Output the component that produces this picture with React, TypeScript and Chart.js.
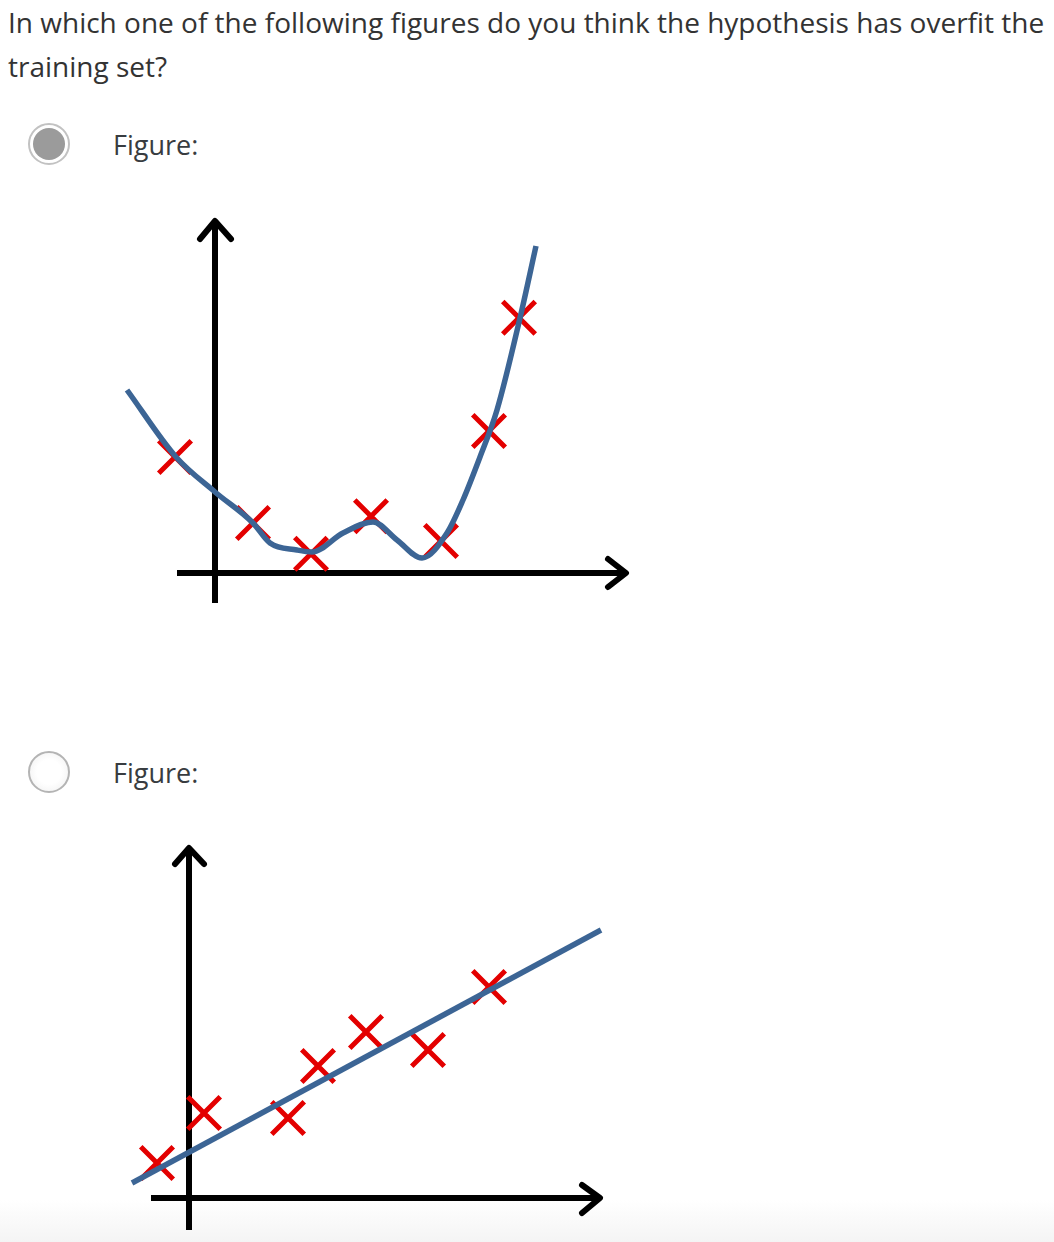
import React, { useEffect, useRef } from "react";
import { Chart, registerables } from "chart.js";

Chart.register(...registerables);

// ---------- Text ----------
const questionText =
  "In which one of the following figures do you think the hypothesis has overfit the training set?";
const optionLabels = ["Figure:", "Figure:"];

// ---------- Figure 1 (overfit hypothesis) ----------
const fig1CrossX = [-1, 0.95, 2.4, 3.9, 5.65, 6.85, 7.6];
const fig1CrossY = [2.9, 1.25, 0.48, 1.42, 0.8, 3.55, 6.38];
const fig1CurveX = [-2.2, -0.975, 0, 0.95, 1.375, 2.05, 2.425, 3.2, 3.95, 4.55, 5.175, 5.8, 6.2, 6.625, 7.05, 7.625, 8.025];
const fig1CurveY = [4.575, 2.9, 2.025, 1.25, 0.75, 0.575, 0.525, 1.0, 1.275, 0.825, 0.375, 1.0, 1.825, 2.9, 4.075, 6.375, 8.175];
const fig1YAxisX = [0, 0];
const fig1YAxisY = [-0.75, 8.8];
const fig1YArrowX = [-0.375, 0, 0.4];
const fig1YArrowY = [8.35, 8.8, 8.35];
const fig1XAxisX = [-0.95, 10.275];
const fig1XAxisY = [0, 0];
const fig1XArrowX = [9.825, 10.275, 9.825];
const fig1XArrowY = [0.35, 0, -0.35];

// ---------- Figure 2 (good linear fit) ----------
const fig2CrossX = [-0.8, 0.375, 2.475, 3.225, 4.425, 5.975, 7.5];
const fig2CrossY = [0.875, 2.125, 2.0, 3.3, 4.15, 3.7, 5.275];
const fig2LineX = [-1.425, 10.3];
const fig2LineY = [0.375, 6.7];
const fig2YAxisX = [0, 0];
const fig2YAxisY = [-0.8, 8.75];
const fig2YArrowX = [-0.35, 0, 0.375];
const fig2YArrowY = [8.35, 8.75, 8.35];
const fig2XAxisX = [-0.95, 10.275];
const fig2XAxisY = [0, 0];
const fig2XArrowX = [9.825, 10.275, 9.825];
const fig2XArrowY = [0.325, 0, -0.375];

const BLUE = "#3c6595";
const RED = "#e30000";
const BLACK = "#000000";

function pts(xs: number[], ys: number[]) {
  return xs.map((x, i) => ({ x, y: ys[i] }));
}

function axisSet(xs: number[], ys: number[], round: boolean) {
  return {
    type: "line" as const,
    data: pts(xs, ys),
    showLine: true,
    borderColor: BLACK,
    borderWidth: 6,
    pointRadius: 0,
    tension: 0,
    borderCapStyle: round ? "round" : "butt",
    borderJoinStyle: round ? "round" : "miter",
    clip: false,
    order: 3,
  };
}

type FigProps = {
  left: number;
  top: number;
  width: number;
  height: number;
  xMin: number;
  xMax: number;
  yMin: number;
  yMax: number;
  datasets: any[];
};

function FigureChart(props: FigProps) {
  const ref = useRef<HTMLCanvasElement | null>(null);
  useEffect(() => {
    if (!ref.current) return;
    const chart = new Chart(ref.current, {
      type: "scatter",
      data: { datasets: props.datasets },
      options: {
        animation: false,
        responsive: false,
        maintainAspectRatio: false,
        devicePixelRatio: 1,
        layout: { padding: 0, autoPadding: false },
        events: [],
        plugins: { legend: { display: false }, tooltip: { enabled: false } },
        scales: {
          x: { type: "linear", min: props.xMin, max: props.xMax, display: false },
          y: { type: "linear", min: props.yMin, max: props.yMax, display: false },
        },
      } as any,
    });
    return () => chart.destroy();
  }, []);
  return (
    <canvas
      ref={ref}
      width={props.width}
      height={props.height}
      style={{
        position: "absolute",
        left: props.left,
        top: props.top,
        width: props.width,
        height: props.height,
      }}
    />
  );
}

function crossSet(xs: number[], ys: number[]) {
  return {
    type: "scatter" as const,
    data: pts(xs, ys),
    showLine: false,
    pointStyle: "crossRot",
    pointRadius: 23,
    pointBorderWidth: 5,
    pointBorderColor: RED,
    pointBackgroundColor: RED,
    borderColor: RED,
    clip: false,
    order: 2,
  };
}

const fig1Datasets = [
  {
    type: "line" as const,
    data: pts(fig1CurveX, fig1CurveY),
    showLine: true,
    borderColor: BLUE,
    borderWidth: 5.5,
    pointRadius: 0,
    cubicInterpolationMode: "monotone",
    borderCapStyle: "butt",
    borderJoinStyle: "round",
    clip: false,
    order: 1,
  },
  crossSet(fig1CrossX, fig1CrossY),
  axisSet(fig1YAxisX, fig1YAxisY, false),
  axisSet(fig1XAxisX, fig1XAxisY, false),
  axisSet(fig1YArrowX, fig1YArrowY, true),
  axisSet(fig1XArrowX, fig1XArrowY, true),
];

const fig2Datasets = [
  {
    type: "line" as const,
    data: pts(fig2LineX, fig2LineY),
    showLine: true,
    borderColor: BLUE,
    borderWidth: 5.5,
    pointRadius: 0,
    tension: 0,
    borderCapStyle: "butt",
    clip: false,
    order: 1,
  },
  crossSet(fig2CrossX, fig2CrossY),
  axisSet(fig2YAxisX, fig2YAxisY, false),
  axisSet(fig2XAxisX, fig2XAxisY, false),
  axisSet(fig2YArrowX, fig2YArrowY, true),
  axisSet(fig2XArrowX, fig2XArrowY, true),
];

const textColor = "#383c40";

export default function App() {
  return (
    <div
      style={{
        position: "absolute",
        left: 0,
        top: 0,
        width: 1054,
        height: 1242,
        overflow: "hidden",
        background: "#ffffff",
        fontFamily: "'Open Sans', sans-serif",
        color: textColor,
      }}
    >
      <div
        style={{
          position: "absolute",
          left: 0,
          top: 1200,
          width: 1054,
          height: 42,
          background: "linear-gradient(#ffffff, #f4f4f4)",
        }}
      />
      <div
        style={{
          position: "absolute",
          left: 8,
          top: 0,
          width: 1044,
          fontSize: 28,
          lineHeight: "44px",
          color: "#333333",
        }}
      >
        {questionText}
      </div>

      {/* option 1 : selected */}
      <div
        style={{
          position: "absolute",
          left: 28,
          top: 123,
          width: 42,
          height: 42,
          boxSizing: "border-box",
          borderRadius: "50%",
          border: "2px solid #c2c2c2",
          background: "#ffffff",
        }}
      >
        <div
          style={{
            position: "absolute",
            left: 3,
            top: 3,
            width: 32,
            height: 32,
            borderRadius: "50%",
            background: "#9b9b9b",
          }}
        />
      </div>
      <div
        style={{
          position: "absolute",
          left: 113,
          top: 123,
          fontSize: 27,
          lineHeight: "44px",
          whiteSpace: "nowrap",
        }}
      >
        {optionLabels[0]}
      </div>

      {/* option 2 : unselected */}
      <div
        style={{
          position: "absolute",
          left: 28,
          top: 751,
          width: 42,
          height: 42,
          boxSizing: "border-box",
          borderRadius: "50%",
          border: "2px solid #b4b4b4",
          background: "radial-gradient(circle, #ffffff 45%, #eeeeee 100%)",
        }}
      />
      <div
        style={{
          position: "absolute",
          left: 113,
          top: 751,
          fontSize: 27,
          lineHeight: "44px",
          whiteSpace: "nowrap",
        }}
      >
        {optionLabels[1]}
      </div>

      <FigureChart
        left={100}
        top={200}
        width={560}
        height={420}
        xMin={-2.875}
        xMax={11.125}
        yMin={-1.175}
        yMax={9.325}
        datasets={fig1Datasets}
      />
      <FigureChart
        left={100}
        top={825}
        width={560}
        height={417}
        xMin={-2.225}
        xMax={11.775}
        yMin={-1.1}
        yMax={9.325}
        datasets={fig2Datasets}
      />
    </div>
  );
}
